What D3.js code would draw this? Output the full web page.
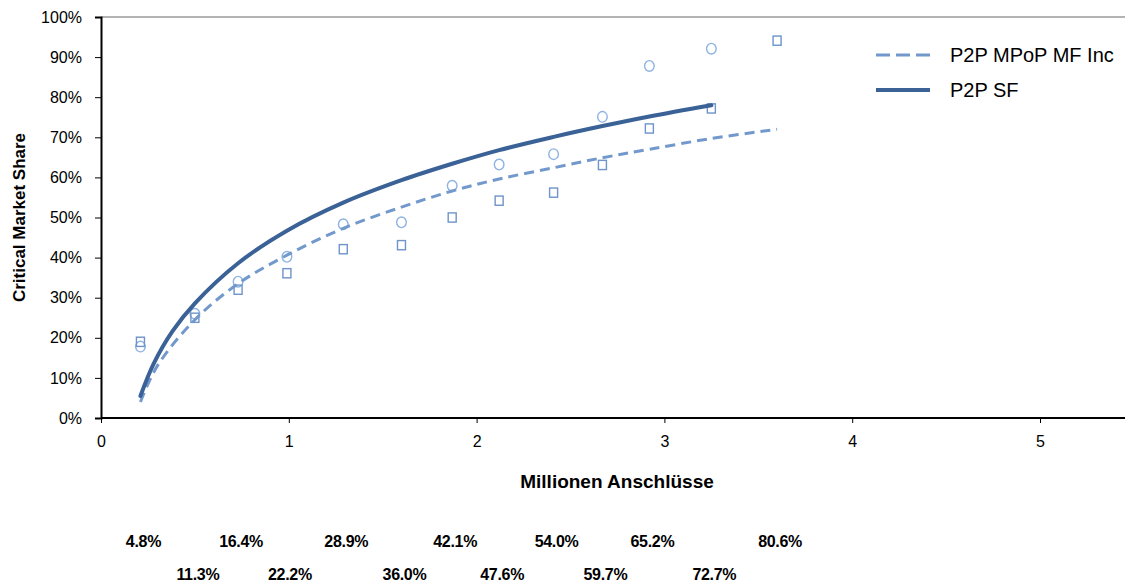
<!DOCTYPE html>
<html>
<head>
<meta charset="utf-8">
<script src="https://cdn.jsdelivr.net/npm/d3@7"></script>
<style>
	html, body { margin: 0; padding: 0; background: #fff; }
	svg { display: block; font-family: Arial, "Liberation Sans", sans-serif; }
</style>
</head>
<body>
<div id="chart"></div>
<script>
// Marker x positions (Millionen Anschlüsse) and the share labels printed under the chart
const xValues = [ 0.21, 0.5, 0.73, 0.99, 1.29, 1.6, 1.87, 2.12, 2.41, 2.67, 2.92, 3.25, 3.6 ];
const penetrationLabels = [ '4.8%', '11.3%', '16.4%', '22.2%', '28.9%', '36.0%', '42.1%', '47.6%', '54.0%', '59.7%', '65.2%', '72.7%', '80.6%' ];

// Scatter points (critical market share, %)
const circleShares = [ 17.8, 26, 34, 40.2, 48.3, 48.8, 57.9, 63.2, 65.8, 75.1, 87.8, 92.1, null ];
const squareShares = [ 19, 25, 32, 36.1, 42.1, 43.1, 50, 54.2, 56.2, 63.1, 72.2, 77.2, 94.1 ];

// Trend curves
const sfCurveX = [ 0.21, 0.28, 0.38, 0.5, 0.73, 0.99, 1.29, 1.6, 1.87, 2.12, 2.41, 2.67, 2.92, 3.25 ];
const sfCurveY = [ 5.5, 13.5, 21.6, 28.6, 38.6, 46.7, 53.7, 59.3, 63.4, 66.8, 70.1, 72.8, 75.2, 78 ];
const mfCurveX = [ 0.21, 0.3, 0.5, 0.73, 0.99, 1.29, 1.6, 1.87, 2.12, 2.41, 2.67, 2.92, 3.25, 3.6 ];
const mfCurveY = [ 4, 13, 24.5, 33.5, 40.6, 47.3, 52.6, 56.6, 59.6, 62.4, 64.9, 67, 69.7, 72 ];

const xTicks = [ 0, 1, 2, 3, 4, 5 ];
const yTicks = [ 0, 10, 20, 30, 40, 50, 60, 70, 80, 90, 100 ];
const seriesNames = [ 'P2P MPoP MF Inc', 'P2P SF' ];

const width = 1125,
	height = 587;
const plot = { left: 101, top: 17, bottom: 418 };

const colorSolid = '#3b6296';
const colorDashed = '#7399cc';
const colorCircle = '#8db3e2';
const colorSquare = '#6e94c9';

const svg = d3.select( '#chart' )
	.append( 'svg' )
	.attr( 'width', width )
	.attr( 'height', height );

const x = d3.scaleLinear()
	.domain( [ 0, 5.5 ] )
	.range( [ plot.left, plot.left + ( 5.5 * 187.8 ) ] );

const y = d3.scaleLinear()
	.domain( [ 0, 100 ] )
	.range( [ plot.bottom, plot.top ] );

// Grey top border of the plot area
svg.append( 'line' )
	.attr( 'x1', plot.left )
	.attr( 'x2', width )
	.attr( 'y1', y( 100 ) )
	.attr( 'y2', y( 100 ) )
	.attr( 'stroke', '#9a9a9a' )
	.attr( 'stroke-width', 1.5 );

// Y axis
const yAxis = svg.append( 'g' )
	.attr( 'transform', `translate(${ plot.left },0)` )
	.call( d3.axisLeft( y ).tickValues( yTicks ).tickSize( 6 ).tickPadding( 13 ).tickFormat( ( d ) => `${ d }%` ) );

// X axis
const xAxis = svg.append( 'g' )
	.attr( 'transform', `translate(0,${ plot.bottom })` )
	.call( d3.axisBottom( x ).tickValues( xTicks ).tickSize( 5 ).tickPadding( 13 ).tickFormat( d3.format( 'd' ) ) );

[ yAxis, xAxis ].forEach( ( axis ) => {
	axis.select( '.domain' ).attr( 'stroke', '#000' ).attr( 'stroke-width', 2 );
	axis.selectAll( '.tick line' ).attr( 'stroke', '#000' ).attr( 'stroke-width', 1 );
	axis.selectAll( '.tick text' )
		.attr( 'fill', '#000' )
		.style( 'font-size', '16px' )
		.style( 'font-family', 'Arial, "Liberation Sans", sans-serif' );
} );
xAxis.select( '.domain' ).attr( 'd', `M${ plot.left },0H${ width }` );

// Axis titles
svg.append( 'text' )
	.attr( 'transform', `translate(19,${ ( plot.top + plot.bottom ) / 2 }) rotate(-90)` )
	.attr( 'text-anchor', 'middle' )
	.attr( 'dy', '0.35em' )
	.style( 'font-size', '17px' )
	.style( 'font-weight', 'bold' )
	.text( 'Critical Market Share' );

svg.append( 'text' )
	.attr( 'x', 617 )
	.attr( 'y', 481 )
	.attr( 'text-anchor', 'middle' )
	.attr( 'dy', '0.35em' )
	.style( 'font-size', '19px' )
	.style( 'font-weight', 'bold' )
	.text( 'Millionen Anschlüsse' );

// Scatter markers
const circles = xValues.map( ( d, i ) => ( { x: d, y: circleShares[ i ] } ) ).filter( ( d ) => d.y !== null );
const squares = xValues.map( ( d, i ) => ( { x: d, y: squareShares[ i ] } ) ).filter( ( d ) => d.y !== null );

svg.append( 'g' )
	.selectAll( 'ellipse' )
	.data( circles )
	.join( 'ellipse' )
	.attr( 'cx', ( d ) => x( d.x ) )
	.attr( 'cy', ( d ) => y( d.y ) )
	.attr( 'rx', 4.8 )
	.attr( 'ry', 5.3 )
	.attr( 'fill', 'none' )
	.attr( 'stroke', colorCircle )
	.attr( 'stroke-width', 1.4 );

svg.append( 'g' )
	.selectAll( 'rect' )
	.data( squares )
	.join( 'rect' )
	.attr( 'x', ( d ) => x( d.x ) - 4 )
	.attr( 'y', ( d ) => y( d.y ) - 4.6 )
	.attr( 'width', 8 )
	.attr( 'height', 9.2 )
	.attr( 'fill', 'none' )
	.attr( 'stroke', colorSquare )
	.attr( 'stroke-width', 1.4 );

// Trend curves
const line = d3.line()
	.x( ( d ) => x( d[ 0 ] ) )
	.y( ( d ) => y( d[ 1 ] ) )
	.curve( d3.curveCatmullRom.alpha( 0.5 ) );

svg.append( 'path' )
	.datum( mfCurveX.map( ( d, i ) => [ d, mfCurveY[ i ] ] ) )
	.attr( 'fill', 'none' )
	.attr( 'stroke', colorDashed )
	.attr( 'stroke-width', 3 )
	.attr( 'stroke-dasharray', '10,6' )
	.attr( 'd', line );

svg.append( 'path' )
	.datum( sfCurveX.map( ( d, i ) => [ d, sfCurveY[ i ] ] ) )
	.attr( 'fill', 'none' )
	.attr( 'stroke', colorSolid )
	.attr( 'stroke-width', 4 )
	.attr( 'stroke-linecap', 'round' )
	.attr( 'd', line );

// Share labels under the chart, alternating in two rows
svg.append( 'g' )
	.selectAll( 'text' )
	.data( penetrationLabels )
	.join( 'text' )
	.attr( 'x', ( d, i ) => x( xValues[ i ] ) + 3 )
	.attr( 'y', ( d, i ) => ( i % 2 === 0 ? 541 : 574 ) )
	.attr( 'dy', '0.35em' )
	.attr( 'text-anchor', 'middle' )
	.style( 'font-size', '16px' )
	.style( 'font-weight', 'bold' )
	.style( 'letter-spacing', '-0.3px' )
	.text( ( d ) => d );

// Legend
const legend = svg.append( 'g' ).attr( 'transform', 'translate(876,55)' );
seriesNames.forEach( ( name, i ) => {
	const row = legend.append( 'g' ).attr( 'transform', `translate(0,${ i * 35 })` );
	row.append( 'line' )
		.attr( 'x1', 0 )
		.attr( 'x2', 54 )
		.attr( 'stroke', i === 0 ? colorDashed : colorSolid )
		.attr( 'stroke-width', i === 0 ? 3 : 4 )
		.attr( 'stroke-dasharray', i === 0 ? '14,6' : null );
	row.append( 'text' )
		.attr( 'x', 74 )
		.attr( 'dy', '0.35em' )
		.style( 'font-size', '20px' )
		.text( name );
} );
</script>
</body>
</html>
